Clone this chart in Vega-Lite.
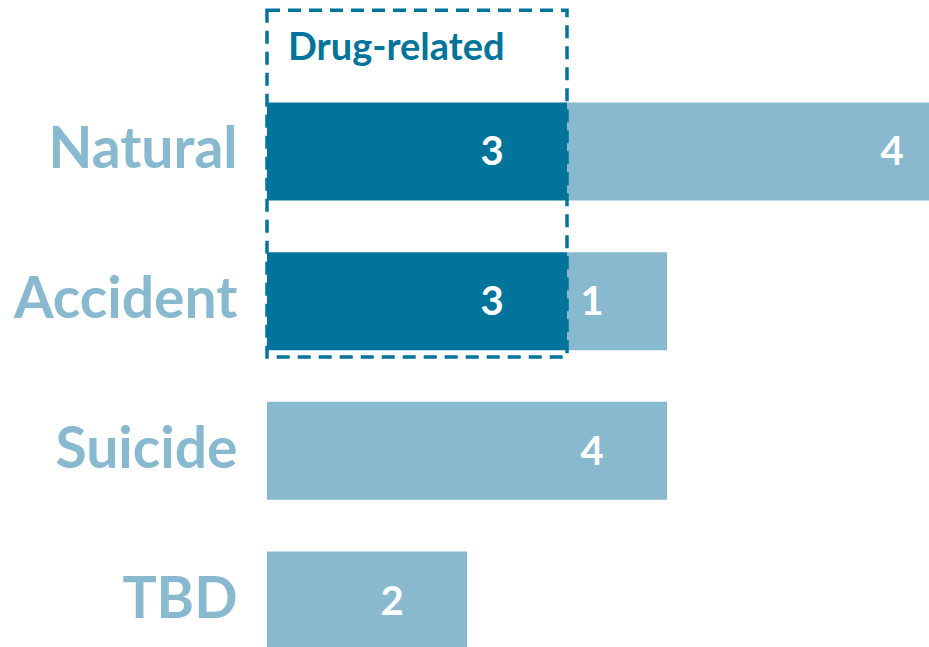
{
  "$schema": "https://vega.github.io/schema/vega-lite/v6.json",
  "width": 662,
  "height": 562,
  "autosize": "none",
  "padding": {"left": 267, "top": 95, "right": 0, "bottom": 0},
  "background": "white",
  "config": {"view": {"stroke": null}, "font": "Lato"},
  "datasets": {
    "deaths": [
      {"cause": "Natural", "type": "Drug-related", "count": 3},
      {"cause": "Natural", "type": "Other", "count": 4},
      {"cause": "Accident", "type": "Drug-related", "count": 3},
      {"cause": "Accident", "type": "Other", "count": 1},
      {"cause": "Suicide", "type": "Other", "count": 4},
      {"cause": "TBD", "type": "Other", "count": 2}
    ],
    "box": [
      {"label": "Drug-related", "from": 0, "to": 3, "top": "Natural", "bottom": "Accident"}
    ]
  },
  "layer": [
    {
      "data": {"name": "deaths"},
      "mark": {"type": "bar"},
      "encoding": {
        "y": {
          "field": "cause", "type": "nominal",
          "scale": {"domain": ["Natural", "Accident", "Suicide", "TBD"], "paddingInner": 0.345, "paddingOuter": 0.05},
          "axis": {"title": null, "domain": false, "ticks": false, "labelFontSize": 57, "labelFontWeight": "bold", "labelColor": "#88b9cf", "labelPadding": 30, "labelAlign": "right", "labelFont": "Lato", "labelLimit": 0}
        },
        "x": {"field": "count", "type": "quantitative", "stack": "zero", "scale": {"domain": [0, 6.62], "nice": false, "zero": true}, "axis": null},
        "color": {"field": "type", "type": "nominal", "scale": {"domain": ["Drug-related", "Other"], "range": ["#00749a", "#88b9cf"]}, "legend": null},
        "order": {"field": "type", "sort": "ascending"}
      }
    },
    {
      "data": {"name": "deaths"},
      "mark": {"type": "text", "dx": -75, "dy": 2, "align": "center", "baseline": "middle", "fontSize": 40, "fontWeight": "bold", "color": "white", "font": "Lato"},
      "encoding": {
        "y": {"field": "cause", "type": "nominal"},
        "x": {"field": "count", "type": "quantitative", "stack": "zero"},
        "detail": {"field": "type"},
        "order": {"field": "type", "sort": "ascending"},
        "text": {"field": "count", "type": "quantitative"}
      }
    },
    {
      "data": {"name": "box"},
      "mark": {"type": "rect", "fill": null, "fillOpacity": 0, "stroke": "#00749a", "strokeWidth": 3.5, "strokeDash": [13, 8]},
      "encoding": {
        "x": {"field": "from", "type": "quantitative"},
        "x2": {"field": "to"},
        "y": {"field": "top", "type": "nominal", "bandPosition": -0.94},
        "y2": {"field": "bottom", "bandPosition": 1.07}
      }
    },
    {
      "data": {"name": "box"},
      "mark": {"type": "text", "align": "left", "baseline": "middle", "dx": 21, "fontSize": 38, "fontWeight": "bold", "color": "#00749a", "font": "Lato"},
      "encoding": {
        "x": {"field": "from", "type": "quantitative"},
        "y": {"field": "top", "type": "nominal", "bandPosition": -0.55},
        "text": {"field": "label"}
      }
    }
  ]
}
